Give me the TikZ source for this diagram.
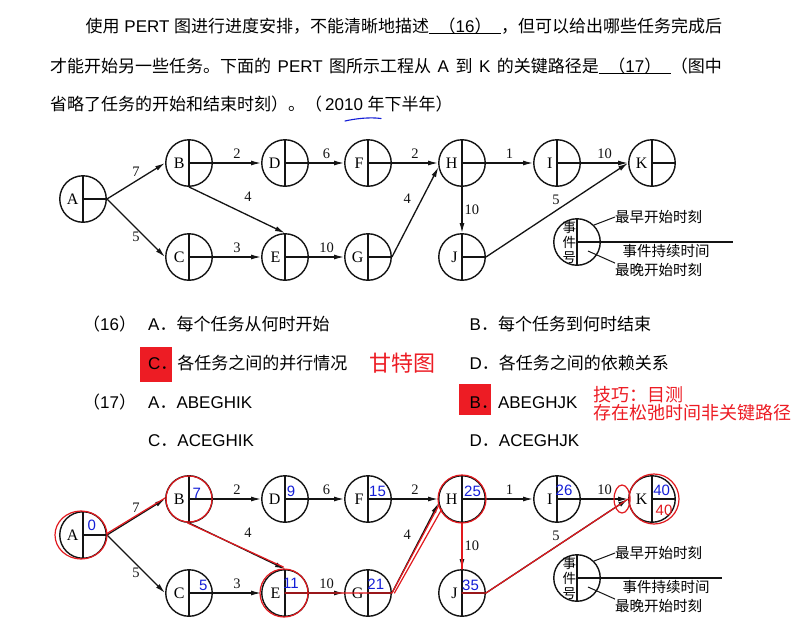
\documentclass[tikz,border=0pt]{standalone}
\usepackage{fontspec}
\setmainfont{Liberation Sans}
\newfontfamily\zhfont{Noto Sans CJK SC}
\newfontfamily\enfont{Liberation Sans}
\newfontfamily\pertfont{Liberation Serif}
\usepackage{xcolor}
\usepackage{tikz}
\usetikzlibrary{positioning, arrows.meta, calc}

% switch between Latin and CJK fonts
\XeTeXinterchartokenstate=1
\newXeTeXintercharclass\zhclass
\newcount\zhcode
\newcommand{\setzhrange}[2]{\zhcode=#1\relax
  \loop\XeTeXcharclass\zhcode=\zhclass
    \ifnum\zhcode<#2\advance\zhcode by 1\repeat}
\setzhrange{"3000}{"303F}
\setzhrange{"4E00}{"9FFF}
\setzhrange{"FF00}{"FFEF}
\XeTeXinterchartoks 0 \zhclass = {\zhfont}
\XeTeXinterchartoks 4095 \zhclass = {\zhfont}
\XeTeXinterchartoks \zhclass 0 = {\enfont}
\XeTeXinterchartoks \zhclass 4095 = {\enfont}

\definecolor{inkline}{RGB}{20,20,20}
\definecolor{markred}{RGB}{237,28,36}
\definecolor{penred}{RGB}{225,25,30}
\definecolor{penblue}{RGB}{20,30,215}

\newcommand{\evname}[2][4.5pt]{\makebox[0pt][r]{#2\hspace{#1}}}
\newcommand{\blank}[1]{\makebox[0pt][l]{\rule[-1.6pt]{72pt}{0.8pt}}\makebox[72pt]{\zhfont#1}\zhfont}

\tikzset{
    evt/.style    = {circle, draw=inkline, line width=1.4pt, minimum size=46.5pt,
                     inner sep=0pt, font=\pertfont\fontsize{16}{16}\selectfont,
                     path picture={\draw[inkline, line width=1.4pt]
                       (path picture bounding box.north) -- (path picture bounding box.south)
                       (path picture bounding box.center) -- (path picture bounding box.east);}},
    job/.style    = {-{Latex[length=10pt, width=5pt]}, line width=1.3pt, inkline},
    dur/.style    = {font=\pertfont\fontsize{14.5}{14.5}\selectfont, inner sep=1pt},
    note/.style   = {font=\zhfont\fontsize{14.5}{14.5}\selectfont, inner sep=0pt},
    para/.style   = {anchor=base west, inner sep=0pt, font=\fontsize{17}{20}\selectfont},
    zh/.style     = {font=\zhfont\fontsize{17}{20}\selectfont},
    answer/.style = {fill=markred, inner sep=0pt, minimum width=32pt},
    penno/.style  = {font=\fontsize{15}{15}\selectfont, text=penblue, inner sep=0pt},
    pen/.style    = {penred, line width=1.2pt, line cap=round, line join=round},
}

% one PERT net: prefix, vertical shift, end of legend line
\newcommand{\pertnet}[3]{%
\begin{scope}[shift={(0,#2)}]
\node[evt] (#1A) at (83,199) {\evname{A}};
\node[evt] (#1B) at (189,163) {\evname{B}};
\node[evt] (#1D) at (285,163) {\evname{D}};
\node[evt] (#1F) at (368,163) {\evname{F}};
\node[evt] (#1H) at (462,163) {\evname{H}};
\node[evt] (#1I) at (557,163) {\evname{I}};
\node[evt] (#1K) at (652,163) {\evname{K}};
\node[evt] (#1C) at (189,257) {\evname{C}};
\node[evt] (#1E) at (285,257) {\evname{E}};
\node[evt] (#1G) at (368,257) {\evname{G}};
\node[evt] (#1J) at (462,257) {\evname{J}};

% legend
\node[evt, font=\zhfont\fontsize{13.5}{14}\selectfont] (#1L) at (577,242)
    {\evname[1pt]{\shortstack{事\\件\\号}}};
\coordinate (#1Lend) at (#3,242);
\draw[inkline, line width=1.2pt] (#1L.center) -- (#1Lend);
\node[note, anchor=west] (#1Learly) at (615,217) {最早开始时刻};
\node[note] (#1Ldur) at (666,251) {事件持续时间};
\node[note, anchor=west] (#1Llate) at (615,270) {最晚开始时刻};
\draw[inkline, line width=1pt] (#1L.45) -- (#1Learly.west);
\draw[inkline, line width=1pt] ([shift={(11pt,-9pt)}]#1L.center) -- (#1Llate.north west);

\draw[job] (#1A.east) -- node[dur, yshift=9pt] (#1ab) {7} (#1B.west);
\draw[job] (#1A.east) -- node[dur, yshift=-9pt] (#1ac) {5} (#1C.west);
\draw[job] (#1B.east) -- node[dur, above=3pt] (#1bd) {2} (#1D.west);
\draw[job] (#1D.east) -- node[dur, above=3pt] (#1df) {6} (#1F.west);
\draw[job] (#1F.east) -- node[dur, above=3pt] (#1fh) {2} (#1H.west);
\draw[job] (#1H.east) -- node[dur, above=3pt] (#1hi) {1} (#1I.west);
\draw[job] (#1I.east) -- node[dur, above=3pt] (#1ik) {10} (#1K.west);
\draw[job] (#1B.south) -- node[dur, xshift=11pt, yshift=13pt] (#1be) {4} (#1E.north);
\draw[job] (#1C.east) -- node[dur, above=3pt] (#1ce) {3} (#1E.west);
\draw[job] (#1E.east) -- node[dur, above=3pt] (#1eg) {10} (#1G.west);
\draw[job] (#1G.east) -- node[dur, xshift=-8pt, yshift=13pt] (#1gh) {4} (#1H.190);
\draw[job] (#1H.south) -- node[dur, right=1pt] (#1hj) {10} (#1J.north);
\draw[job] (#1J.east) -- node[dur, xshift=-1pt, yshift=10pt] (#1jk) {5} (#1K.west);
\end{scope}}

\begin{document}
\begin{tikzpicture}[x=1pt, y=-1pt]
\path[use as bounding box, fill=white] (0,0) rectangle (801,640);

% question text
\node[para, zh] (line1) at (85.5,32)
    {使用 PERT 图进行进度安排，不能清晰地描述\blank{（16）}，但可以给出哪些任务完成后};
\node[para, zh] (line2) at (50,72)
    {\spaceskip=6.5pt\relax 才能开始另一些任务。下面的 PERT 图所示工程从 A 到 K 的关键路径是\blank{（17）}（图中};
\node[para, zh] (line3) at (50,110)
    {省略了任务的开始和结束时刻）。（\hspace{3pt}2010 \zhfont 年下半年）};
\draw[penblue, line width=1.1pt, line cap=round]
    (345,121) .. controls (356,118.5) and (370,117) .. (381,118.5);

\pertnet{t}{0}{733}

% options
\node[para, zh] (q16) at (83,330.5) {（16）};
\node[para] (o16a) at (148,330.5) {A．每个任务从何时开始};
\node[para] (o16b) at (469.5,330.5) {B．每个任务到何时结束};
\node[answer, minimum height=35pt] (ans16) at (156,364.5) {};
\node[para] (o16c) at (148,369.5) {C．各任务之间的并行情况};
\node[para, font=\zhfont\fontsize{22}{24}\selectfont, text=markred] (gantt) at (369.5,371.5) {甘特图};
\node[para] (o16d) at (469.5,369.5) {D．各任务之间的依赖关系};
\node[para, zh] (q17) at (83,408) {（17）};
\node[para] (o17a) at (148,408) {A．ABEGHIK};
\node[answer, minimum height=31pt] (ans17) at (475,399.5) {};
\node[para] (o17b) at (469.5,408) {B．ABEGHJK};
\node[para, font=\zhfont\fontsize{18}{18}\selectfont, text=markred] (tip1) at (593.5,401.5) {技巧：目测};
\node[para, font=\zhfont\fontsize{18}{18}\selectfont, text=markred] (tip2) at (593.5,419.5) {存在松弛时间非关键路径};
\node[para] (o17c) at (148,446.5) {C．ACEGHIK};
\node[para] (o17d) at (469.5,446.5) {D．ACEGHJK};

\pertnet{b}{336}{722}

% hand marks: critical path
\draw[pen] ([xshift=-2pt]bA.center) ellipse [x radius=26pt, y radius=24pt];
\draw[pen] (bB.center) circle [radius=23pt];
\draw[pen] ([xshift=-1pt]bE.center) circle [radius=24pt];
\draw[pen] (bH.center) circle [radius=24pt];
\draw[pen] ([xshift=2pt]bK.center) circle [radius=25pt];
\draw[pen] ([xshift=-6pt]bK.west) ellipse [x radius=8pt, y radius=14pt];
\draw[pen] ([yshift=1.5pt]bA.east) -- ([yshift=1pt]bB.west);
\draw[pen] ([xshift=-1.5pt]bB.south) -- ([xshift=-1.5pt, yshift=2pt]bE.north);
\draw[pen] (bE.center) -- (bG.east) -- (bH.195);
\draw[pen] ([xshift=2.5pt]bG.east) -- ([xshift=1.5pt]bH.205);
\draw[pen] (bH.south) -- (bJ.north);
\draw[pen] (bJ.center) -- (bJ.east) -- (bK.west);

% hand marks: earliest times
\node[penno] (vA) at (91.7,525) {0};
\node[penno] (vB) at (196.7,493) {7};
\node[penno] (vD) at (291,491) {9};
\node[penno] (vF) at (377.5,491) {15};
\node[penno] (vC) at (203.3,585) {5};
\node[penno] (vE) at (291,583) {11};
\node[penno] (vG) at (375.8,584) {21};
\node[penno] (vH) at (472.5,491) {25};
\node[penno] (vI) at (564,490) {26};
\node[penno] (vJ) at (470.5,585) {35};
\node[penno] (vK) at (661.7,490) {40};
\node[penno, text=penred] (wK) at (664,510) {40};

\end{tikzpicture}
\end{document}
